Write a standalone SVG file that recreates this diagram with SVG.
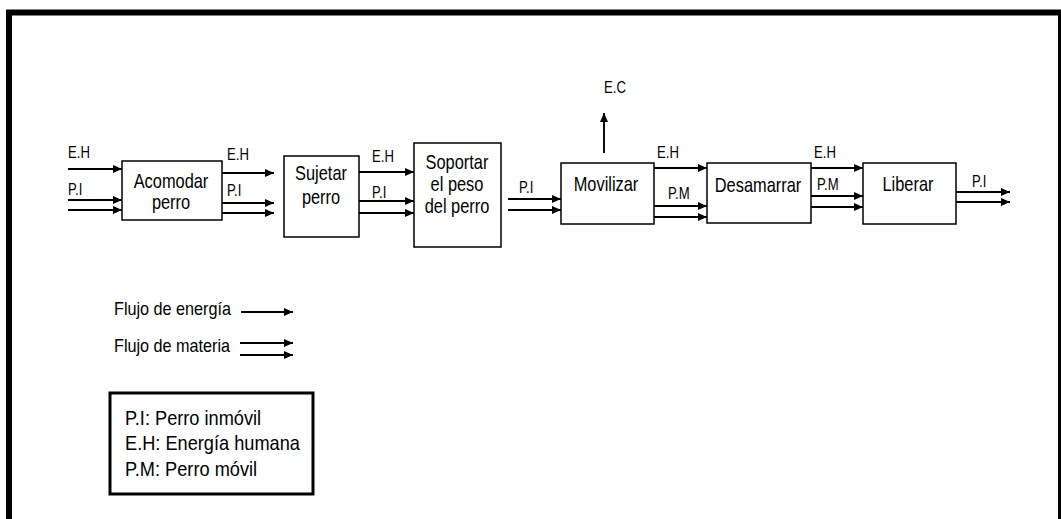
<svg xmlns="http://www.w3.org/2000/svg" width="1061" height="519" viewBox="0 0 1061 519">
<style>
text{font-family:"Liberation Sans",Arial,sans-serif;fill:#000}
.b{font-size:20px;text-anchor:middle}
.l{font-size:16px}
.g{font-size:18px}
.k{font-size:20px}
.box{fill:#fff;stroke:#000;stroke-width:1.5}
.a{stroke:#000;stroke-width:1.9;fill:none;marker-end:url(#ah)}
</style>
<defs>
<marker id="ah" markerUnits="userSpaceOnUse" markerWidth="9" markerHeight="8" refX="9" refY="4" orient="auto">
<path d="M0,0 L9,4 L0,8 z" fill="#000"/>
</marker>
</defs>
<rect x="0" y="0" width="1061" height="519" fill="#fff"/>
<rect id="frame" x="9" y="12.5" width="1052" height="600" fill="none" stroke="#000" stroke-width="6"/>

<g id="acomodar">
<rect class="box" x="122" y="161" width="100" height="59"/>
<text class="b" transform="translate(171,188) scale(0.82,1)">Acomodar</text>
<text class="b" transform="translate(171,209) scale(0.82,1)">perro</text>
</g>
<g id="sujetar">
<rect class="box" x="284" y="156" width="75" height="81"/>
<text class="b" transform="translate(321,180) scale(0.82,1)">Sujetar</text>
<text class="b" transform="translate(321,204) scale(0.82,1)">perro</text>
</g>
<g id="soportar">
<rect class="box" x="414" y="143" width="87" height="104"/>
<text class="b" transform="translate(457,169) scale(0.82,1)">Soportar</text>
<text class="b" transform="translate(457,191) scale(0.82,1)">el peso</text>
<text class="b" transform="translate(457,213) scale(0.82,1)">del perro</text>
</g>
<g id="movilizar">
<rect class="box" x="561" y="163" width="93" height="61"/>
<text class="b" transform="translate(606,191) scale(0.82,1)">Movilizar</text>
</g>
<g id="desamarrar">
<rect class="box" x="707" y="163" width="104" height="60"/>
<text class="b" transform="translate(758,192) scale(0.82,1)">Desamarrar</text>
</g>
<g id="liberar">
<rect class="box" x="863" y="163" width="93" height="61"/>
<text class="b" transform="translate(908,191) scale(0.82,1)">Liberar</text>
</g>

<g id="connectors">
<line class="a" x1="68" y1="169" x2="122" y2="169"/>
<line class="a" x1="68" y1="200" x2="122" y2="200"/>
<line class="a" x1="68" y1="210" x2="122" y2="210"/>
<line class="a" x1="222" y1="173" x2="274" y2="173"/>
<line class="a" x1="222" y1="203" x2="274" y2="203"/>
<line class="a" x1="222" y1="213" x2="274" y2="213"/>
<line class="a" x1="359" y1="172" x2="414" y2="172"/>
<line class="a" x1="359" y1="201" x2="414" y2="201"/>
<line class="a" x1="359" y1="213" x2="414" y2="213"/>
<line class="a" x1="508" y1="199" x2="561" y2="199"/>
<line class="a" x1="508" y1="210" x2="561" y2="210"/>
<line class="a" x1="604" y1="153" x2="604" y2="113"/>
<line class="a" x1="654" y1="168" x2="707" y2="168"/>
<line class="a" x1="654" y1="206" x2="707" y2="206"/>
<line class="a" x1="654" y1="217" x2="707" y2="217"/>
<line class="a" x1="811" y1="168" x2="863" y2="168"/>
<line class="a" x1="811" y1="196" x2="863" y2="196"/>
<line class="a" x1="811" y1="207" x2="863" y2="207"/>
<line class="a" x1="956" y1="192" x2="1010" y2="192"/>
<line class="a" x1="956" y1="202" x2="1010" y2="202"/>
<line class="a" x1="241" y1="312" x2="293" y2="312"/>
<line class="a" x1="240" y1="343" x2="293" y2="343"/>
<line class="a" x1="240" y1="355" x2="293" y2="355"/>
</g>

<g id="labels">
<text class="l" transform="translate(68,158) scale(0.82,1)">E.H</text>
<text class="l" transform="translate(68,195) scale(0.82,1)">P.I</text>
<text class="l" transform="translate(227,160) scale(0.82,1)">E.H</text>
<text class="l" transform="translate(227,196) scale(0.82,1)">P.I</text>
<text class="l" transform="translate(372,162) scale(0.82,1)">E.H</text>
<text class="l" transform="translate(372,198) scale(0.82,1)">P.I</text>
<text class="l" transform="translate(519,193) scale(0.82,1)">P.I</text>
<text class="l" transform="translate(604,93) scale(0.82,1)">E.C</text>
<text class="l" transform="translate(657,158) scale(0.82,1)">E.H</text>
<text class="l" transform="translate(668,199) scale(0.82,1)">P.M</text>
<text class="l" transform="translate(814,158) scale(0.82,1)">E.H</text>
<text class="l" transform="translate(817,190) scale(0.82,1)">P.M</text>
<text class="l" transform="translate(972,187) scale(0.82,1)">P.I</text>
</g>

<g id="legend">
<text class="g" transform="translate(114,315) scale(0.9,1)">Flujo de energía</text>
<text class="g" transform="translate(114,352) scale(0.9,1)">Flujo de materia</text>
</g>

<g id="key">
<rect x="110" y="393" width="203" height="101" fill="#fff" stroke="#000" stroke-width="3"/>
<text class="k" transform="translate(125,425) scale(0.91,1)">P.I: Perro inmóvil</text>
<text class="k" transform="translate(125,450) scale(0.91,1)">E.H: Energía humana</text>
<text class="k" transform="translate(125,476) scale(0.91,1)">P.M: Perro móvil</text>
</g>
</svg>
